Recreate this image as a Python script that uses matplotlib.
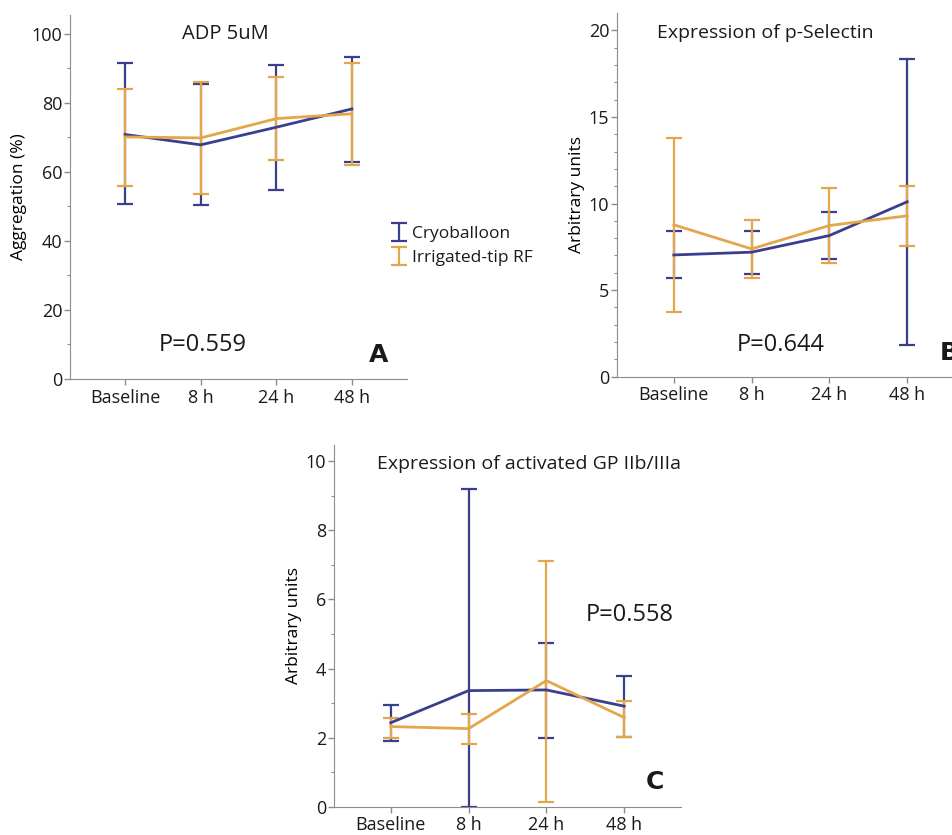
import numpy as np
import matplotlib
matplotlib.use("Agg")
import matplotlib.pyplot as plt

# time points shared by all three panels
timepoints = ["Baseline", "8 h", "24 h", "48 h"]

# A: ADP 5uM aggregation (%)
adp_cryo_mean = [70.8, 67.8, 72.9, 78.2]
adp_cryo_low = [50.7, 50.4, 54.8, 62.8]
adp_cryo_high = [91.5, 85.3, 90.8, 93.2]
adp_rf_mean = [70.1, 69.8, 75.4, 76.8]
adp_rf_low = [56.0, 53.7, 63.5, 61.9]
adp_rf_high = [83.9, 86.0, 87.4, 91.5]

# B: p-Selectin expression (arbitrary units)
psel_cryo_mean = [7.03, 7.19, 8.15, 10.1]
psel_cryo_low = [5.72, 5.92, 6.80, 1.83]
psel_cryo_high = [8.42, 8.44, 9.50, 18.35]
psel_rf_mean = [8.77, 7.38, 8.73, 9.29]
psel_rf_low = [3.76, 5.72, 6.55, 7.55]
psel_rf_high = [13.8, 9.06, 10.9, 11.0]

# C: activated GP IIb/IIIa expression (arbitrary units)
gp_cryo_mean = [2.43, 3.36, 3.38, 2.91]
gp_cryo_low = [1.90, 0.0, 2.00, 2.03]
gp_cryo_high = [2.94, 9.21, 4.73, 3.79]
gp_rf_mean = [2.32, 2.26, 3.65, 2.58]
gp_rf_low = [2.00, 1.81, 0.14, 2.03]
gp_rf_high = [2.58, 2.68, 7.12, 3.06]

p_values = ["P=0.559", "P=0.644", "P=0.558"]
series_names = ["Cryoballoon", "Irrigated-tip RF"]

BLUE = "#3a3e8e"
ORANGE = "#e3a64a"

plt.rcParams.update({
    'font.family': ['Open Sans', 'DejaVu Sans'],
    'font.size': 12.5,
    'text.color': '#1a1a1a',
    'axes.edgecolor': '#8c8c8c',
    'xtick.color': '#8c8c8c',
    'ytick.color': '#8c8c8c',
    'xtick.labelcolor': '#1a1a1a',
    'ytick.labelcolor': '#1a1a1a',
    'xtick.labelsize': 13,
    'ytick.labelsize': 13,
})

W, H = 953, 835
fig = plt.figure(figsize=(W / 100, H / 100), dpi=100)


def make_axes(left, top, right, bottom):
    return fig.add_axes([left / W, 1 - bottom / H, (right - left) / W, (bottom - top) / H])


def draw_panel(ax, cryo, rf, ylim, major, minor_step, ylabel):
    x = np.arange(len(timepoints))
    handles = []
    for (mean, low, high), color in zip([cryo, rf], [BLUE, ORANGE]):
        mean = np.array(mean)
        yerr = [mean - np.array(low), np.array(high) - mean]
        eb = ax.errorbar(x, mean, yerr=yerr, fmt='none', ecolor=color,
                         elinewidth=1.6, capsize=5.5, capthick=1.6, zorder=2)
        ax.plot(x, mean, color=color, linewidth=2.0, zorder=3)
        handles.append(eb)
    ax.set_xlim(-0.73, 3.73)
    ax.set_ylim(*ylim)
    ax.set_xticks(x)
    ax.set_xticklabels(timepoints)
    ax.set_yticks(major)
    ax.set_yticks(np.arange(0, ylim[1], minor_step), minor=True)
    ax.tick_params(axis='y', which='major', length=4, width=1, pad=1.5)
    ax.tick_params(axis='y', which='minor', length=2.5, width=0.8)
    ax.tick_params(axis='x', length=4, width=1, pad=3)
    for s in ['top', 'right']:
        ax.spines[s].set_visible(False)
    ax.set_ylabel(ylabel, labelpad=3)
    return handles


# panel A
axA = make_axes(70, 15, 407, 379)
handles = draw_panel(axA, (adp_cryo_mean, adp_cryo_low, adp_cryo_high),
                     (adp_rf_mean, adp_rf_low, adp_rf_high),
                     (0, 105.4), np.arange(0, 101, 20), 10, "Aggregation (%)")
axA.text(1.32, 100, "ADP 5uM", ha='center', va='center', fontsize=14.5)
axA.text(1.03, 9.8, p_values[0], ha='center', va='center', fontsize=17)
axA.text(3.36, 6.9, "A", ha='center', va='center', fontsize=18,
         fontweight='bold', family='DejaVu Sans')

# panel B
axB = make_axes(617, 13, 964, 376.7)
draw_panel(axB, (psel_cryo_mean, psel_cryo_low, psel_cryo_high),
           (psel_rf_mean, psel_rf_low, psel_rf_high),
           (0, 21.0), np.arange(0, 21, 5), 1, "Arbitrary units")
axB.text(1.17, 19.87, "Expression of p-Selectin", ha='center', va='center', fontsize=14)
axB.text(1.37, 1.83, p_values[1], ha='center', va='center', fontsize=17)
axB.text(3.42, 1.37, "B", ha='left', va='center', fontsize=18,
         fontweight='bold', family='DejaVu Sans')

# panel C
axC = make_axes(334, 445, 681, 806.7)
draw_panel(axC, (gp_cryo_mean, gp_cryo_low, gp_cryo_high),
           (gp_rf_mean, gp_rf_low, gp_rf_high),
           (0, 10.47), np.arange(0, 11, 2), 1, "Arbitrary units")
axC.text(1.77, 9.92, "Expression of activated GP IIb/IIIa", ha='center', va='center', fontsize=14)
axC.text(3.07, 5.55, p_values[2], ha='center', va='center', fontsize=17)
axC.text(3.39, 0.72, "C", ha='center', va='center', fontsize=18,
         fontweight='bold', family='DejaVu Sans')

fig.legend(handles, series_names, loc='upper left',
           bbox_to_anchor=(394 / W, 1 - 226 / H), frameon=False,
           handlelength=0.6, handletextpad=0.45, labelspacing=0.45,
           borderpad=0, borderaxespad=0, fontsize=12.5)

fig.savefig("out.png", dpi=100)
